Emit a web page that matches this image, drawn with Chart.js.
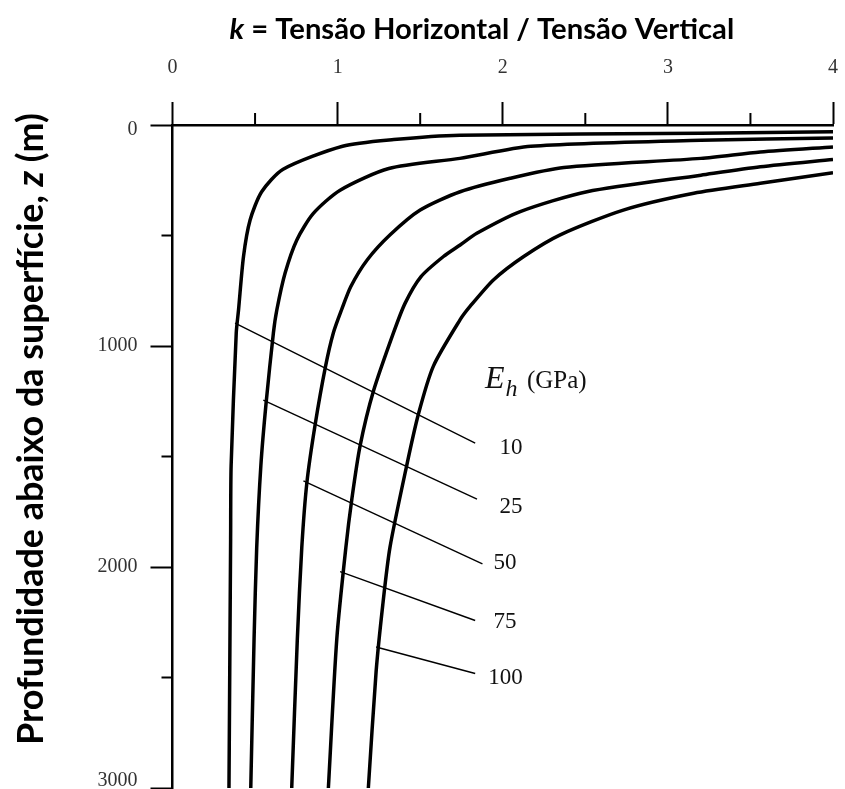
<!DOCTYPE html>
<html>
<head>
<meta charset="utf-8">
<script src="https://cdn.jsdelivr.net/npm/chart.js@4"></script>
<style>
  html, body { margin: 0; padding: 0; background: #fff; }
  canvas { display: block; }
</style>
</head>
<body>
<canvas id="grafico" width="845" height="789"></canvas>
<script>
// valores: k (eixo x) e profundidade z em m (eixo y)
const moduloEh = ["10", "25", "50", "75", "100"];

const z10 = [31, 37, 46, 66, 96, 200, 302, 430, 595, 836, 941, 1542, 1873, 3000];
const k10 = [4.0, 3.2, 1.74, 1.34, 1.03, 0.67, 0.54, 0.47, 0.43, 0.40, 0.386, 0.355, 0.352, 0.342];

const z25 = [59, 69, 96, 151, 197, 295, 400, 520, 670, 836, 941, 1257, 1542, 1911, 2325, 3000];
const k25 = [4.0, 3.2, 2.17, 1.74, 1.31, 1.015, 0.853, 0.753, 0.682, 0.632, 0.611, 0.567, 0.535, 0.51, 0.494, 0.474];

const z50 = [99, 122, 151, 192, 241, 302, 385, 497, 610, 731, 836, 941, 1091, 1355, 1617, 1911, 2325, 3000];
const k50 = [4.0, 3.56, 3.2, 2.37, 2.045, 1.742, 1.5, 1.318, 1.18, 1.08, 1.024, 0.974, 0.927, 0.864, 0.814, 0.783, 0.756, 0.722];

const z75 = [156, 189, 227, 302, 392, 490, 543, 595, 686, 806, 941, 1204, 1452, 1693, 1911, 2325, 3000];
const k75 = [4.0, 3.56, 3.2, 2.51, 2.106, 1.843, 1.742, 1.641, 1.505, 1.409, 1.338, 1.217, 1.136, 1.086, 1.05, 0.995, 0.944];

const z100 = [216, 264, 309, 385, 497, 595, 700, 820, 881, 1091, 1309, 1542, 1911, 2174, 2474, 3000];
const k100 = [4.0, 3.56, 3.157, 2.73, 2.348, 2.127, 1.945, 1.803, 1.742, 1.58, 1.489, 1.418, 1.317, 1.273, 1.233, 1.186];

// linhas de chamada (início na curva, fim junto ao rótulo)
const chamadaK = [[0.379, 1.833], [0.55, 1.844], [0.793, 1.877], [1.015, 1.833], [1.233, 1.833]];
const chamadaZ = [[896, 1440], [1245, 1693], [1610, 1986], [2021, 2242], [2362, 2482]];
const rotuloK = [2.05, 2.05, 2.014, 2.014, 2.016];
const rotuloZ = [1462, 1727, 1982, 2247, 2502];

// ticks
const xTicks = [0, 1, 2, 3, 4];
const xMinor = [0.5, 1.5, 2.5, 3.5];
const yTicks = [0, 1000, 2000, 3000];
const yMinor = [500, 1500, 2500];

const curvas = [[k10, z10], [k25, z25], [k50, z50], [k75, z75], [k100, z100]];
const pontos = (ks, zs) => ks.map((k, i) => ({ x: k, y: zs[i] }));

const datasets = [];
curvas.forEach(([ks, zs], i) => {
  datasets.push({
    label: "Eh " + moduloEh[i],
    data: pontos(ks, zs),
    borderColor: "#000",
    borderWidth: 3.5,
    tension: 0.25,
    pointRadius: 0,
    fill: false,
  });
});
chamadaK.forEach((ks, i) => {
  datasets.push({
    label: "chamada " + moduloEh[i],
    data: pontos(ks, chamadaZ[i]),
    borderColor: "#000",
    borderWidth: 1.4,
    tension: 0,
    pointRadius: 0,
    fill: false,
  });
});

// escreve texto em partes (normal / itálico) ajustado a uma largura
function textoAjustado(ctx, partes, cx, cy, largura, familia) {
  const base = 20;
  let total = 0;
  partes.forEach((p) => {
    ctx.font = `${p.italic ? "italic " : ""}bold ${base}px ${familia}`;
    total += ctx.measureText(p.text).width;
  });
  const tam = (base * largura) / total;
  let x = cx - largura / 2;
  ctx.textBaseline = "middle";
  ctx.textAlign = "left";
  partes.forEach((p) => {
    ctx.font = `${p.italic ? "italic " : ""}bold ${tam}px ${familia}`;
    ctx.fillText(p.text, x, cy);
    x += ctx.measureText(p.text).width;
  });
}

const extras = {
  id: "extras",
  beforeDraw(chart) {
    const c = chart.ctx;
    c.save();
    c.fillStyle = "#fff";
    c.fillRect(0, 0, chart.width, chart.height);
    c.restore();
  },
  afterDraw(chart) {
    const c = chart.ctx;
    const sx = chart.scales.x;
    const sy = chart.scales.y;
    c.save();
    c.strokeStyle = "#000";
    c.lineWidth = 2;
    // ticks menores
    xMinor.forEach((v) => {
      const px = sx.getPixelForValue(v);
      c.beginPath();
      c.moveTo(px, sy.top);
      c.lineTo(px, sy.top - 12);
      c.stroke();
    });
    yMinor.forEach((v) => {
      const py = sy.getPixelForValue(v);
      c.beginPath();
      c.moveTo(sx.left, py);
      c.lineTo(sx.left - 11, py);
      c.stroke();
    });

    // rótulos do eixo y (o último fica acima da borda, como no original)
    c.fillStyle = "#333";
    c.font = "20px 'Liberation Serif', serif";
    c.textAlign = "right";
    c.textBaseline = "middle";
    yTicks.forEach((v, i) => {
      let py = sy.getPixelForValue(v);
      if (i === 0) py += 5;
      if (i === yTicks.length - 1) py -= 7;
      c.fillText(String(v), sx.left - 35, py);
    });

    // títulos
    c.fillStyle = "#000";
    textoAjustado(c, [{ text: "k", italic: true }, { text: " = Tensão Horizontal / Tensão Vertical" }], 482, 30, 505, "Lato, 'Open Sans', sans-serif");
    c.save();
    c.translate(31, 429);
    c.rotate(-Math.PI / 2);
    textoAjustado(c, [{ text: "Profundidade abaixo da superfície, " }, { text: "z", italic: true }, { text: " (m)" }], 0, 0, 632, "Lato, 'Open Sans', sans-serif");
    c.restore();

    // rótulos das curvas
    c.fillStyle = "#111";
    c.textAlign = "center";
    c.textBaseline = "middle";
    c.font = "23px 'Liberation Serif', serif";
    moduloEh.forEach((t, i) => {
      c.fillText(t, sx.getPixelForValue(rotuloK[i]), sy.getPixelForValue(rotuloZ[i]));
    });

    // E_h (GPa)
    const ex = sx.getPixelForValue(1.892);
    const ey = sy.getPixelForValue(1190);
    c.textAlign = "left";
    c.textBaseline = "alphabetic";
    c.font = "italic 32px 'Liberation Serif', serif";
    c.fillText("E", ex, ey);
    const we = c.measureText("E").width;
    c.font = "italic 24px 'Liberation Serif', serif";
    c.fillText("h", ex + we + 1, ey + 8);
    c.font = "25px 'Liberation Serif', serif";
    c.fillText("(GPa)", ex + 42, ey);
    c.restore();
  },
};

const serif = { family: "'Liberation Serif', serif", size: 20 };

new Chart(document.getElementById("grafico"), {
  type: "line",
  data: { datasets },
  options: {
    responsive: false,
    animation: false,
    events: [],
    layout: { padding: { left: 0, right: 12, top: 0, bottom: 1 } },
    plugins: { legend: { display: false }, tooltip: { enabled: false } },
    scales: {
      x: {
        type: "linear",
        position: "top",
        min: 0,
        max: 4,
        afterBuildTicks: (s) => { s.ticks = xTicks.map((v) => ({ value: v })); },
        afterFit: (s) => {
          s.height = 125;
          s.paddingLeft = 0;
          s.paddingRight = 0;
        },
        ticks: { font: serif, color: "#333", padding: 22, maxRotation: 0 },
        grid: { drawOnChartArea: false, tickLength: 23, tickWidth: 2, tickColor: "#000" },
        border: { display: true, color: "#000", width: 2.5 },
      },
      y: {
        type: "linear",
        reverse: true,
        min: 0,
        max: 3000,
        afterBuildTicks: (s) => { s.ticks = yTicks.map((v) => ({ value: v })); },
        afterFit: (s) => {
          s.width = 172.5;
          s.paddingTop = 0;
          s.paddingBottom = 0;
        },
        ticks: { display: false },
        grid: { drawOnChartArea: false, tickLength: 22, tickWidth: 2, tickColor: "#000" },
        border: { display: true, color: "#000", width: 2.5 },
      },
    },
  },
  plugins: [extras],
});
</script>
</body>
</html>
